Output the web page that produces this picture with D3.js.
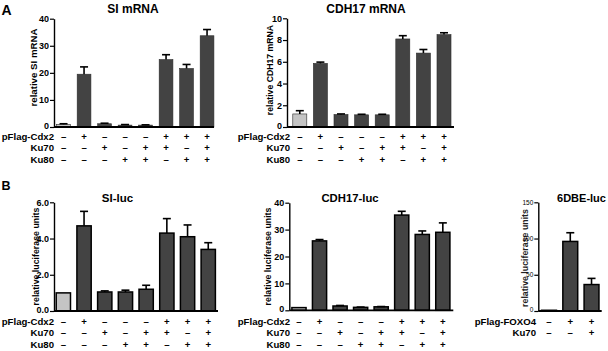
<!DOCTYPE html>
<html>
<head>
<meta charset="utf-8">
<script src="https://cdn.jsdelivr.net/npm/d3@7"></script>
<style>
  body { margin: 0; background: #fff; }
  svg { display: block; font-family: "Liberation Sans", Arial, sans-serif; }
</style>
</head>
<body>
<div id="fig"></div>
<script>
// ---- data ----
const cdxRows = ["pFlag-Cdx2", "Ku70", "Ku80"];
const cdxSigns = [
  ["-", "+", "-", "-", "-", "+", "+", "+"],
  ["-", "-", "+", "-", "+", "+", "-", "+"],
  ["-", "-", "-", "+", "+", "-", "+", "+"]
];
const foxoRows = ["pFlag-FOXO4", "Ku70"];
const foxoSigns = [
  ["-", "+", "+"],
  ["-", "-", "+"]
];

const siMrna = [1.0, 19.5, 1.2, 0.7, 0.7, 24.9, 21.6, 33.7];
const siMrnaErr = [0.2, 2.7, 0.2, 0.2, 0.1, 1.8, 1.5, 2.3];
const cdh17Mrna = [1.2, 5.85, 1.15, 1.12, 1.12, 8.1, 6.8, 8.5];
const cdh17MrnaErr = [0.3, 0.12, 0.05, 0.05, 0.05, 0.3, 0.33, 0.17];
const siLuc = [1.0, 4.7, 1.05, 1.05, 1.2, 4.3, 4.1, 3.4];
const siLucErr = [0, 0.8, 0.06, 0.1, 0.22, 0.8, 0.65, 0.37];
const cdh17Luc = [1.0, 25.8, 1.6, 1.1, 1.3, 35.4, 28.2, 29.0];
const cdh17LucErr = [0, 0.5, 0.2, 0.1, 0.1, 1.4, 1.3, 3.5];
const dbeLuc = [1.0, 96, 36.5];
const dbeLucErr = [0, 12, 8.5];

const siMrnaTicks = [0, 10, 20, 30, 40];
const cdh17MrnaTicks = [0, 2, 4, 6, 8, 10];
const siLucTicks = [0, 2, 4, 6];
const cdh17LucTicks = [0, 10, 20, 30, 40];
const dbeLucTicks = [0, 50, 100, 150];

const width = 608, height = 351;
const dark = "#434343", light = "#c4c4c4";

const svg = d3.select("#fig").append("svg")
  .attr("width", width).attr("height", height);

// panel letters
svg.append("text").attr("x", 1.5).attr("y", 15).attr("font-size", 14).attr("font-weight", "bold").text("A");
svg.append("text").attr("x", 1.5).attr("y", 190).attr("font-size", 12.5).attr("font-weight", "bold").text("B");

function drawPanel(p) {
  const n = p.values.length;
  const x = d3.scaleBand()
    .domain(d3.range(n))
    .range([p.bandStart, p.bandStart + n * p.step])
    .paddingInner(p.pad).paddingOuter(p.pad / 2);
  const y = d3.scaleLinear()
    .domain([0, p.max])
    .range([p.yZero, p.yTop]);

  const g = svg.append("g");

  // title
  g.append("text")
    .attr("x", p.titleX).attr("y", p.titleY)
    .attr("text-anchor", "middle")
    .attr("font-size", p.titleSize).attr("font-weight", "bold")
    .text(p.title);

  // y label
  g.append("text")
    .attr("transform", `translate(${p.labelX},${p.labelY}) rotate(-90)`)
    .attr("text-anchor", "middle")
    .attr("dominant-baseline", "central")
    .attr("font-size", p.labelSize || 8.8).attr("font-weight", "bold")
    .attr("fill", p.labelColor || "#000")
    .text(p.ylabel);

  // y axis
  const yAxis = d3.axisLeft(y).tickValues(p.ticks).tickSize(4).tickPadding(1).tickSizeOuter(0);
  const ax = g.append("g").attr("transform", `translate(${p.axisX},0)`).call(yAxis);
  ax.select(".domain").attr("stroke", "#000").attr("stroke-width", 1.4);
  ax.selectAll(".tick line").attr("stroke", "#000").attr("stroke-width", 1.2);
  ax.selectAll(".tick text")
    .attr("font-size", p.tickSize).attr("font-weight", p.tickWeight || "bold")
    .attr("font-family", "Liberation Sans, Arial, sans-serif")
    .attr("fill", "#000")
    .attr("dy", d => d === 0 ? "0.15em" : "0.32em");

  // bars
  g.append("g").selectAll("rect")
    .data(p.values)
    .join("rect")
    .attr("x", (d, i) => x(i))
    .attr("width", x.bandwidth())
    .attr("y", d => y(d))
    .attr("height", d => p.yZero - y(d))
    .attr("fill", (d, i) => i === 0 ? light : dark)
    .attr("stroke", p.outline ? "#000" : "#2a2a2a")
    .attr("stroke-width", p.outline ? 1.5 : 0.6);

  // error bars (upper only)
  const eb = g.append("g").attr("stroke", "#000").attr("stroke-width", 1.6);
  p.values.forEach((v, i) => {
    const e = p.errors[i];
    if (!e) return;
    const cx = x(i) + x.bandwidth() / 2;
    eb.append("line").attr("x1", cx).attr("x2", cx).attr("y1", y(v)).attr("y2", y(v + e));
    eb.append("line").attr("x1", cx - 4).attr("x2", cx + 4).attr("y1", y(v + e)).attr("y2", y(v + e));
  });

  // x baseline
  g.append("line")
    .attr("x1", p.axisX).attr("x2", p.axisEnd)
    .attr("y1", p.yZero).attr("y2", p.yZero)
    .attr("stroke", "#000").attr("stroke-width", 1.8);

  // condition rows
  p.rows.forEach((name, r) => {
    const by = p.rowY[r];
    g.append("text")
      .attr("x", p.rowLabelX).attr("y", by)
      .attr("text-anchor", "end")
      .attr("font-size", 9.6).attr("font-weight", "bold")
      .text(name);
    g.append("g").selectAll("text")
      .data(p.signs[r])
      .join("text")
      .attr("x", (d, i) => x(i) + x.bandwidth() / 2)
      .attr("y", by)
      .attr("text-anchor", "middle")
      .attr("font-size", 9.6).attr("font-weight", "bold")
      .text(d => d === "-" ? "\u2013" : "+");
  });
}

const rowsA = [139.8, 151.4, 163];
const rowsB = [324.5, 336.2, 347.9];

drawPanel({
  title: "SI mRNA", titleX: 133, titleY: 12.8, titleSize: 12,
  ylabel: "relative SI mRNA", labelX: 33.3, labelY: 67.5, labelSize: 9.7,
  values: siMrna, errors: siMrnaErr, ticks: siMrnaTicks, max: 40,
  yTop: 18.7, yZero: 127, axisX: 54, axisEnd: 214,
  bandStart: 53.3, step: 20.5, pad: 0.33, tickSize: 9,
  rows: cdxRows, signs: cdxSigns, rowY: rowsA, rowLabelX: 54, outline: false
});

drawPanel({
  title: "CDH17 mRNA", titleX: 366, titleY: 12.8, titleSize: 12,
  ylabel: "relative CDH17 mRNA", labelX: 270, labelY: 70, labelSize: 8.7,
  values: cdh17Mrna, errors: cdh17MrnaErr, ticks: cdh17MrnaTicks, max: 10,
  yTop: 18.3, yZero: 127, axisX: 287, axisEnd: 454,
  bandStart: 289.5, step: 20.6, pad: 0.32, tickSize: 9,
  rows: cdxRows, signs: cdxSigns, rowY: rowsA, rowLabelX: 290, outline: false
});

drawPanel({
  title: "SI-luc", titleX: 117.5, titleY: 201.5, titleSize: 11.5,
  ylabel: "relative luciferase units", labelX: 36, labelY: 256.5,
  values: siLuc, errors: siLucErr, ticks: siLucTicks, max: 6,
  yTop: 202.3, yZero: 311, axisX: 54, axisEnd: 218,
  bandStart: 53, step: 20.7, pad: 0.31, tickSize: 9,
  rows: cdxRows, signs: cdxSigns, rowY: rowsB, rowLabelX: 54, outline: true
});

drawPanel({
  title: "CDH17-luc", titleX: 350, titleY: 201.5, titleSize: 11.3,
  ylabel: "relative luciferase units", labelX: 268.3, labelY: 256.5,
  values: cdh17Luc, errors: cdh17LucErr, ticks: cdh17LucTicks, max: 40,
  yTop: 202.7, yZero: 310.3, axisX: 289.3, axisEnd: 453.3,
  bandStart: 288.7, step: 20.55, pad: 0.31, tickSize: 9,
  rows: cdxRows, signs: cdxSigns, rowY: rowsB, rowLabelX: 290, outline: true
});

drawPanel({
  title: "6DBE-luc", titleX: 581.5, titleY: 201.5, titleSize: 11,
  ylabel: "relative luciferase units", labelX: 525, labelY: 258, labelColor: "#222",
  values: dbeLuc, errors: dbeLucErr, ticks: dbeLucTicks, max: 150,
  yTop: 202.3, yZero: 311, axisX: 538.3, axisEnd: 601.7,
  bandStart: 538.4, step: 21.25, pad: 0.3, tickSize: 6.5, tickWeight: "normal",
  rows: foxoRows, signs: foxoSigns, rowY: rowsB.slice(0, 2), rowLabelX: 536, outline: true
});
</script>
</body>
</html>
